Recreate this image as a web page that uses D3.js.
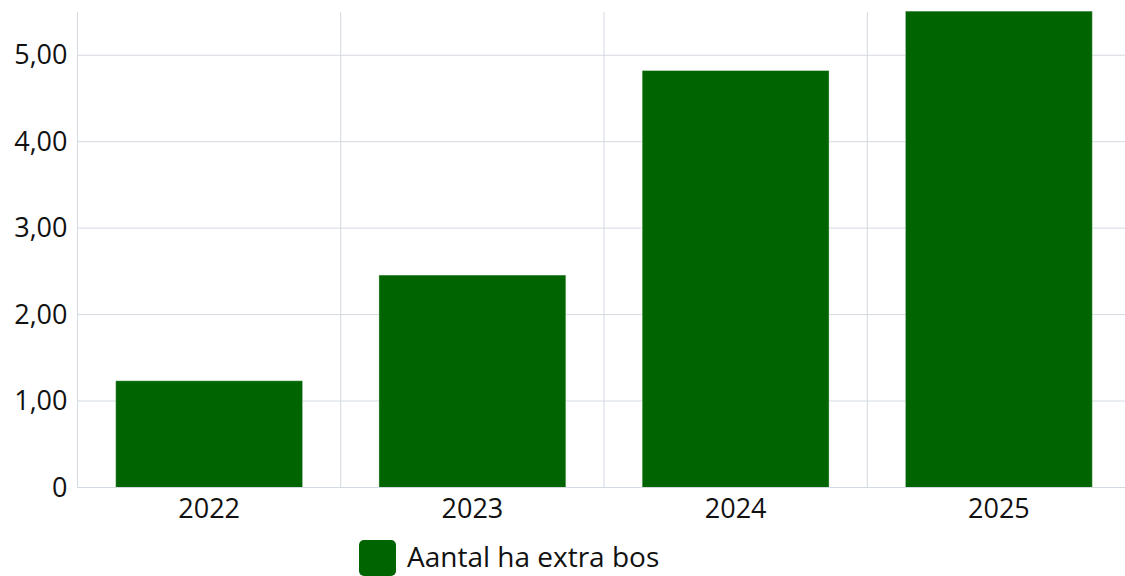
<!DOCTYPE html>
<html>
<head>
<meta charset="utf-8">
<script src="https://cdn.jsdelivr.net/npm/d3@7"></script>
<style>
  html, body { margin: 0; padding: 0; background: #fff; overflow: hidden; }
  svg { display: block; font-family: "Open Sans", "Noto Sans", sans-serif; }
</style>
</head>
<body>
<svg id="chart"></svg>
<script>
// data
let years = ['2022', '2023', '2024', '2025']
let hectares = [1.235, 2.457, 4.823, 5.51]
let yTicks = [0, 1, 2, 3, 4, 5]
let seriesName = 'Aantal ha extra bos'

let width = 1125
let height = 576
let plotLeft = 77.5
let plotRight = 1130.5
let plotTop = 12
let plotBottom = 487.5

let green = '#006400'
let gridColor = '#d3d9e1'

let svg = d3.select('#chart')
    .attr('width', width)
    .attr('height', height)

let xScale = d3.scaleBand()
    .domain(years)
    .range([plotLeft, plotRight])
    .paddingInner(0.29)
    .paddingOuter(0.145)

let xGrid = d3.scaleBand()
    .domain(years)
    .range([plotLeft, plotRight])

let yScale = d3.scaleLinear()
    .domain([0, 5.5])
    .range([plotBottom, plotTop])

let fmt = (v) => v === 0 ? '0' : d3.format('.2f')(v).replace('.', ',')

// horizontal grid
svg.append('g')
    .selectAll('line')
    .data(yTicks)
    .enter()
    .append('line')
    .attr('x1', plotLeft)
    .attr('x2', width)
    .attr('y1', (d) => yScale(d))
    .attr('y2', (d) => yScale(d))
    .attr('stroke', gridColor)
    .attr('stroke-width', 1)

// vertical grid at category borders
svg.append('g')
    .selectAll('line')
    .data(years)
    .enter()
    .append('line')
    .attr('x1', (d) => xGrid(d))
    .attr('x2', (d) => xGrid(d))
    .attr('y1', plotTop)
    .attr('y2', plotBottom)
    .attr('stroke', gridColor)
    .attr('stroke-width', 1)

// bars
svg.append('g')
    .selectAll('rect')
    .data(years)
    .enter()
    .append('rect')
    .attr('x', (d) => xScale(d))
    .attr('width', xScale.bandwidth())
    .attr('y', (d, i) => yScale(hectares[i]))
    .attr('height', (d, i) => plotBottom - yScale(hectares[i]))
    .attr('fill', green)
    .attr('stroke', 'rgba(255,255,255,0.35)')
    .attr('stroke-width', 1)

// axes
let yAxis = d3.axisLeft(yScale).tickValues(yTicks).tickFormat(fmt).tickSize(0).tickPadding(10)
let gy = svg.append('g')
    .attr('transform', 'translate(' + plotLeft + ',0)')
    .call(yAxis)
gy.select('.domain').remove()
gy.selectAll('text')
    .attr('font-size', 27)
    .attr('fill', '#111')
    .attr('font-family', '"Open Sans", sans-serif')

let xAxis = d3.axisBottom(xScale).tickSize(0).tickPadding(11)
let gx = svg.append('g')
    .attr('transform', 'translate(0,' + plotBottom + ')')
    .call(xAxis)
gx.select('.domain').remove()
gx.selectAll('text')
    .attr('font-size', 27)
    .attr('fill', '#111')
    .attr('font-family', '"Open Sans", sans-serif')

// left and bottom axis lines
svg.append('line')
    .attr('x1', plotLeft).attr('x2', plotLeft)
    .attr('y1', plotTop).attr('y2', plotBottom)
    .attr('stroke', gridColor)
svg.append('line')
    .attr('x1', plotLeft).attr('x2', width)
    .attr('y1', plotBottom).attr('y2', plotBottom)
    .attr('stroke', gridColor)

// legend
let legend = svg.append('g')
    .attr('transform', 'translate(359,540)')
legend.append('rect')
    .attr('width', 37)
    .attr('height', 36)
    .attr('rx', 5)
    .attr('fill', green)
legend.append('text')
    .attr('x', 48)
    .attr('y', 27)
    .attr('font-size', 28)
    .attr('fill', '#111')
    .text(seriesName)
</script>
</body>
</html>
